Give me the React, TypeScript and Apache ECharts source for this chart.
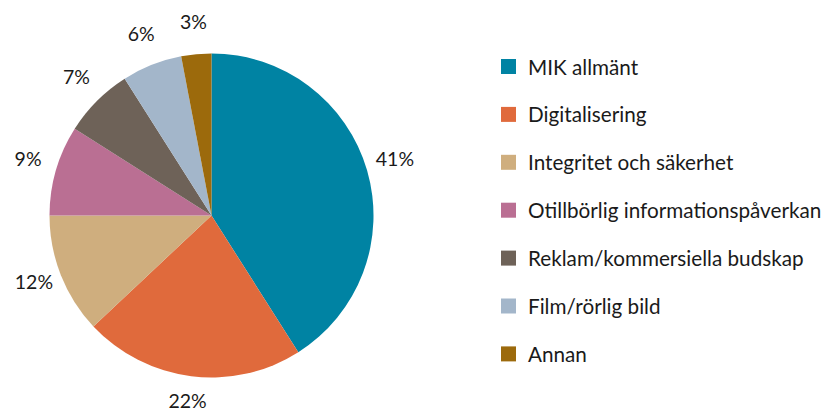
import React, { useEffect, useRef } from "react";
import * as echarts from "echarts";

const categories = [
  "MIK allmänt",
  "Digitalisering",
  "Integritet och säkerhet",
  "Otillbörlig informationspåverkan",
  "Reklam/kommersiella budskap",
  "Film/rörlig bild",
  "Annan",
];
const values = [41, 22, 12, 9, 7, 6, 3];
const colors = ["#0083A3", "#E06A3C", "#CFAE7E", "#BA6F93", "#6E6258", "#A3B6CA", "#9C6A0C"];

const FONT = "Lato, 'Noto Sans', sans-serif";

export default function App() {
  const ref = useRef<HTMLDivElement>(null);
  useEffect(() => {
    document.body.style.margin = "0";
    const chart = echarts.init(ref.current!, undefined, { renderer: "svg" });
    const data = categories.map((name, i) => ({
      name,
      value: values[i],
      itemStyle: { color: colors[i] },
    }));
    chart.setOption({
      animation: false,
      backgroundColor: "#ffffff",
      legend: {
        orient: "vertical",
        left: 496,
        top: 51,
        itemWidth: 15,
        itemHeight: 15,
        itemGap: 26.9,
        icon: "rect",
        data: categories,
        textStyle: {
          fontFamily: FONT,
          fontSize: 20.7,
          lineHeight: 20,
          color: "#1a1a1a",
          padding: [0, 0, 0, 7],
        },
      },
      series: [
        {
          type: "pie",
          center: [211.5, 215.5],
          radius: [0, 162],
          startAngle: 90,
          clockwise: true,
          silent: true,
          label: { show: false },
          labelLine: { show: false },
          data,
        },
        {
          type: "pie",
          center: [211.5, 215.5],
          radius: [178, 198],
          startAngle: 90,
          clockwise: true,
          silent: true,
          legendHoverLink: false,
          itemStyle: { color: "rgba(0,0,0,0)" },
          label: {
            show: true,
            position: "inside",
            formatter: "{c}%",
            fontFamily: FONT,
            fontSize: 19.5,
            lineHeight: 14,
            color: "#1a1a1a",
            offset: [0, -4],
          },
          labelLine: { show: false },
          data: categories.map((name, i) => ({
            name: name + " ",
            value: values[i],
            itemStyle: { color: "rgba(0,0,0,0)" },
          })),
        },
      ],
    });
    return () => chart.dispose();
  }, []);
  return <div ref={ref} style={{ width: 825, height: 412 }} />;
}
